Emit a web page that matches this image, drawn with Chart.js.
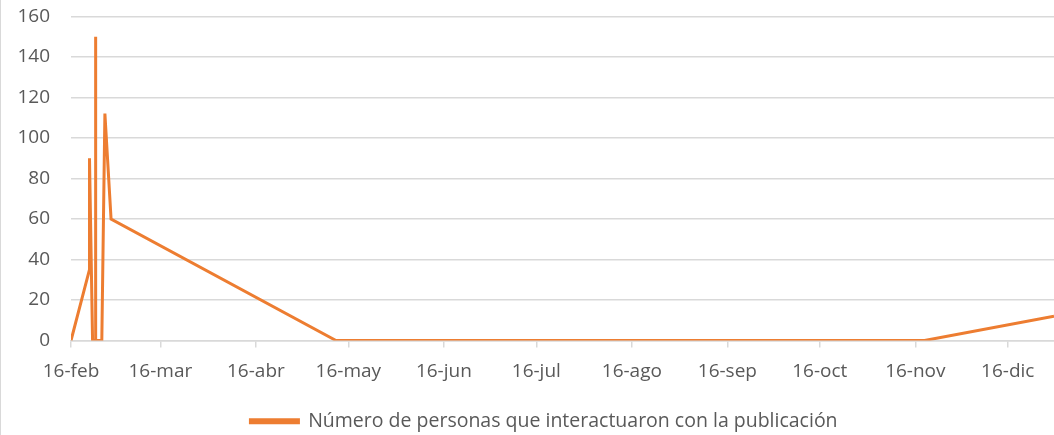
<!DOCTYPE html>
<html lang="es">
<head>
    <meta charset="UTF-8">
    <title>Número de personas que interactuaron con la publicación</title>
    <script src="https://cdn.jsdelivr.net/npm/chart.js"></script>
    <style>
        * { margin: 0; padding: 0; box-sizing: border-box; }
        body { background: #fff; width: 1054px; height: 435px; overflow: hidden; }
        .wrap { position: relative; width: 1054px; height: 435px; }
    </style>
</head>
<body>
    <div class="wrap">
        <canvas id="grafico"></canvas>
    </div>

    <script>
        // Datos
        const fechas = ['2016-02-16', '2016-02-22', '2016-02-22', '2016-02-23', '2016-02-24', '2016-02-24',
                        '2016-02-24', '2016-02-26', '2016-02-27', '2016-02-29', '2016-05-12', '2016-11-19', '2016-12-31'];
        const personas = [0, 35, 90, 0, 0, 150, 0, 0, 112, 60, 0, 0, 12];

        // Marcas del eje X
        const fechasEje = ['2016-02-16', '2016-03-16', '2016-04-16', '2016-05-16', '2016-06-16', '2016-07-16',
                           '2016-08-16', '2016-09-16', '2016-10-16', '2016-11-16', '2016-12-16'];
        const etiquetasEje = ['16-feb', '16-mar', '16-abr', '16-may', '16-jun', '16-jul',
                              '16-ago', '16-sep', '16-oct', '16-nov', '16-dic'];
        const inicioEje = '2016-02-16';
        const finEje = '2016-12-31';

        const dia = s => Date.parse(s + 'T00:00:00Z') / 864e5;

        const gris = '#595959';
        const lineaGris = '#d9d9d9';
        const fuente = "'Open Sans', sans-serif";

        // borde fino del gráfico a la izquierda
        const bordeIzq = {
            id: 'bordeIzq',
            beforeDraw(chart) {
                const ctx = chart.ctx;
                ctx.save();
                ctx.fillStyle = lineaGris;
                ctx.fillRect(0, 0, 1, chart.height);
                ctx.restore();
            }
        };

        new Chart(document.getElementById('grafico'), {
            type: 'line',
            data: {
                datasets: [{
                    label: 'Número de personas que interactuaron con la publicación',
                    data: fechas.map((f, i) => ({ x: dia(f), y: personas[i] })),
                    borderColor: '#ED7D31',
                    backgroundColor: '#ED7D31',
                    borderWidth: 3,
                    pointRadius: 0,
                    tension: 0
                }]
            },
            options: {
                responsive: true,
                maintainAspectRatio: false,
                animation: false,
                // negative right padding widens the legend box so it sits like the cropped original
                layout: { padding: { top: 0, right: -34, bottom: -6, left: 0 } },
                scales: {
                    x: {
                        type: 'linear',
                        min: dia(inicioEje),
                        max: dia(finEje),
                        afterBuildTicks: scale => {
                            scale.ticks = fechasEje.map(f => ({ value: dia(f) }));
                        },
                        afterFit: scale => { scale.height = 66; },
                        ticks: {
                            autoSkip: false,
                            maxRotation: 0,
                            padding: 13,
                            color: gris,
                            font: { family: fuente, size: 19 },
                            callback: (v) => {
                                const i = fechasEje.findIndex(f => dia(f) === v);
                                return i >= 0 ? etiquetasEje[i] : '';
                            }
                        },
                        grid: {
                            drawOnChartArea: false,
                            drawTicks: true,
                            tickLength: 7,
                            color: lineaGris,
                            lineWidth: 1.5
                        },
                        border: { color: lineaGris, width: 1.5 }
                    },
                    y: {
                        min: 0,
                        max: 160,
                        afterFit: scale => { scale.width = 71; },
                        ticks: {
                            stepSize: 20,
                            padding: 5,
                            color: gris,
                            font: { family: fuente, size: 19 }
                        },
                        // invisible tick marks give the label gap without extra top padding
                        grid: { drawTicks: true, tickLength: 16, tickColor: 'transparent', color: lineaGris, lineWidth: 1.5 },
                        border: { display: false }
                    }
                },
                plugins: {
                    legend: {
                        position: 'bottom',
                        labels: {
                            boxWidth: 48,
                            boxHeight: 3,
                            padding: 5,
                            color: gris,
                            font: { family: fuente, size: 19.5 }
                        }
                    },
                    tooltip: { enabled: false }
                }
            },
            plugins: [bordeIzq]
        });
    </script>
</body>
</html>
